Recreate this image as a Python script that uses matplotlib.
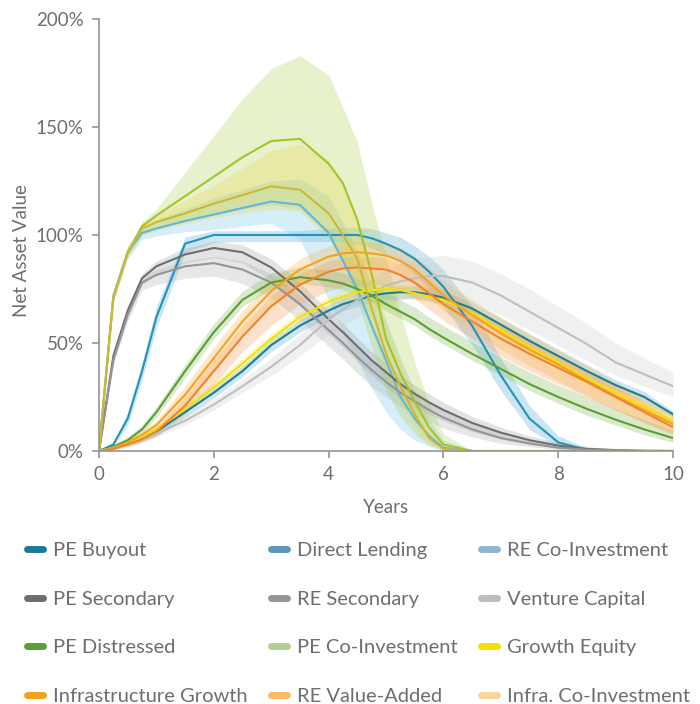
import matplotlib
matplotlib.use('Agg')
import matplotlib.pyplot as plt
from matplotlib.lines import Line2D
from matplotlib.ticker import FuncFormatter

plt.rcParams['font.family'] = ['Lato', 'DejaVu Sans']

# years since first capital call
years = [0, 0.25, 0.5, 0.75, 1, 1.5, 2, 2.5, 3, 3.5, 4, 4.25, 4.5, 4.75, 5,
         5.25, 5.5, 5.75, 6, 6.5, 7, 7.5, 8, 8.5, 9, 9.5, 10]

# NAV as % of commitment: median line, band low, band high
pe_buyout = [0, 1.5, 3.5, 6, 9, 18, 27, 37, 49, 58, 65, 68, 70, 72, 73, 73.5, 73.5, 72.5, 71, 66, 58.5, 51, 44, 37, 30.5, 25, 17]
pe_buyout_lo = [0, 1, 2.5, 4.5, 7, 15.5, 24.5, 34.5, 46, 55, 62, 65, 67, 69, 70, 70.5, 70.5, 69.5, 68, 63, 55.5, 48, 41, 34, 28, 22.5, 15.5]
pe_buyout_hi = [0, 2, 4.5, 7.5, 11, 20.5, 29.5, 39.5, 52, 61, 68, 71, 73, 75, 76, 76.5, 76.5, 75.5, 74, 69, 61.5, 54, 47, 40, 33, 27.5, 18.5]

direct_lending = [0, 3, 15, 37, 62, 96, 100, 100, 100, 100, 100, 100, 100, 98.5, 96, 93, 89, 83, 76, 58, 35, 15, 4, 0.5, 0, 0, 0]
direct_lending_lo = [0, 2, 12, 33, 57, 92, 96.5, 97, 97, 97, 97, 96.5, 96, 94, 91, 87, 82, 75, 67, 49, 28, 10, 2, 0, 0, 0, 0]
direct_lending_hi = [0, 4, 18, 41, 67, 99, 102, 102, 102, 102, 103, 103.5, 103.5, 103, 101, 99, 95, 90, 84, 67, 43, 21, 7, 1.5, 0, 0, 0]

re_coinv = [0, 72, 92, 101, 103, 106.5, 109.5, 112.5, 115.5, 114, 101, 88, 75, 58, 42, 25, 15, 7, 1.5, 0, 0, 0, 0, 0, 0, 0, 0]
re_coinv_lo = [0, 69, 89, 98, 99.5, 101.5, 102.5, 104, 105.5, 98, 70, 55, 42, 29, 18, 10, 5, 2, 0, 0, 0, 0, 0, 0, 0, 0, 0]
re_coinv_hi = [0, 74, 95, 104, 107, 112, 117, 121, 125, 126, 118, 106, 93, 77, 60, 43, 28, 15, 5, 0.5, 0, 0, 0, 0, 0, 0, 0]

pe_secondary = [0, 44, 65, 80, 85.5, 91, 94, 92, 85, 74, 61, 55, 48.5, 42, 36.5, 31, 26.5, 22.5, 19, 13, 8.5, 5, 2.5, 1, 0.4, 0.1, 0]
pe_secondary_lo = [0, 42, 62, 77, 82, 87, 89.5, 87, 79, 67, 54, 48, 41.5, 35, 29.5, 24.5, 20.5, 17, 14, 9, 5.5, 3, 1.5, 0.5, 0.2, 0, 0]
pe_secondary_hi = [0, 45, 67, 82, 88, 94, 97, 95.5, 89, 78, 65, 59, 52.5, 46, 40.5, 35, 30.5, 26.5, 22.5, 16, 11, 7, 4, 2, 1, 0.3, 0]

re_secondary = [0, 42, 63, 78, 81.5, 85.5, 87, 84, 78, 68, 56, 50, 43.5, 37.5, 32, 27, 23, 19, 15.5, 10, 6, 3.5, 1.5, 0.6, 0.2, 0, 0]
re_secondary_lo = [0, 40, 60, 74.5, 77, 80, 81, 77.5, 71, 60.5, 48.5, 42.5, 36, 30, 25, 20.5, 17, 13.5, 10.5, 6.5, 3.5, 2, 0.8, 0.3, 0, 0, 0]
re_secondary_hi = [0, 43, 65, 80, 84, 88, 90, 88, 82, 72, 60.5, 54.5, 48, 42, 36.5, 31.5, 27, 23, 19, 13, 8.5, 5, 2.5, 1, 0.4, 0, 0]

venture = [0, 1, 3, 5, 8, 14, 21.5, 30, 39, 49, 61, 65.5, 70, 73.5, 76.5, 78.5, 80, 81, 81, 78, 72, 64.5, 57, 49.5, 41, 35.5, 30]
venture_lo = [0, 0.5, 2, 4, 6.5, 12, 19, 27, 35, 44, 54, 58, 62, 65, 68, 70, 71, 72, 72, 69, 63, 56, 49, 42, 35, 30, 25]
venture_hi = [0, 1.5, 4, 6, 9.5, 16, 24, 33, 43, 54, 66, 71, 76, 80, 84, 87, 89, 90, 90.5, 88, 82, 75, 67, 59, 50, 43, 36.5]

pe_distressed = [0, 2, 5, 10, 18, 37, 55, 70, 78, 80.5, 79, 77.5, 75, 72, 68, 64.5, 61, 56.5, 52.5, 45, 38, 31, 25, 19.5, 14.5, 10, 6]
pe_distressed_lo = [0, 1, 3.5, 8, 15.5, 34, 52, 67, 75, 77.5, 76, 74.5, 72, 69, 65, 61.5, 58, 53.5, 49.5, 42, 35, 28, 22, 16.5, 12, 7.5, 4]
pe_distressed_hi = [0, 3, 6.5, 12, 20.5, 40, 59, 74, 82.5, 85, 84, 82.5, 80, 77, 73.5, 70, 66.5, 62, 58, 50.5, 43.5, 36.5, 30.5, 25, 19.5, 14.5, 9.5]

pe_coinv = [0, 71, 92, 104, 109, 118, 127, 136, 143.5, 144.5, 133, 124, 107, 82, 52, 36, 23, 11, 3, 0, 0, 0, 0, 0, 0, 0, 0]
pe_coinv_lo = [0, 69, 90, 100, 103, 106, 109, 112, 114, 112, 100, 88, 70, 48, 28, 16, 8, 3, 0.5, 0, 0, 0, 0, 0, 0, 0, 0]
pe_coinv_hi = [0, 73, 94, 106, 112, 129, 146, 163, 177, 183, 174, 159, 143, 115, 90, 64, 41, 22, 8, 0, 0, 0, 0, 0, 0, 0, 0]

growth_equity = [0, 1.5, 3.5, 6.5, 10, 19.5, 29.5, 40.5, 52, 62, 69, 71.5, 73.5, 74.5, 75, 74.5, 73, 71.5, 70, 64, 56, 48, 41, 33.5, 27, 20.5, 14]
growth_equity_lo = [0, 1, 2.5, 5, 8.5, 17.5, 27, 38, 49.5, 59.5, 66.5, 69, 71, 72, 72.5, 72, 70.5, 69, 67.5, 61.5, 53.5, 45.5, 38.5, 31, 24.5, 18, 11.5]
growth_equity_hi = [0, 2, 4.5, 8, 11.5, 21.5, 32, 43, 54.5, 64.5, 71.5, 74, 76, 77, 77.5, 77, 75.5, 74, 72.5, 66.5, 58.5, 50.5, 43.5, 36, 29.5, 23, 16.5]

infra_growth = [0, 1.5, 4, 7.5, 12, 26, 43, 60, 74, 84, 90, 91.5, 92, 91.5, 90.5, 88, 84, 78, 72, 63, 54.5, 47, 40, 32.5, 25.5, 19, 12.5]
infra_growth_lo = [0, 1, 3, 6, 10, 22, 38, 54, 67, 77, 83, 85, 86, 85.5, 84, 81, 77, 71, 65, 56, 47, 39.5, 32.5, 25.5, 19, 13.5, 8.5]
infra_growth_hi = [0, 2, 5, 9, 14, 30, 48, 65, 79, 89, 95, 96.5, 97, 97, 96, 94, 90, 85, 79, 70, 62, 54.5, 47, 39.5, 32, 25, 17]

re_value_added = [0, 1, 3, 5.5, 9, 21, 37, 53, 67, 77, 83, 84.5, 85, 84.5, 84, 81.5, 78, 73, 68, 60, 52, 45, 38.5, 32, 25, 18, 11]
re_value_added_lo = [0, 0.5, 2, 4, 7, 17, 31, 46, 58, 68, 74, 76, 77, 77, 76.5, 74, 70.5, 65.5, 60.5, 52, 44, 37, 31, 25, 19, 13, 7.5]
re_value_added_hi = [0, 1.5, 4, 7, 11, 25, 42, 58, 72, 82, 88, 89.5, 90, 90, 89.5, 87, 84, 79.5, 74.5, 66.5, 58.5, 51, 44, 37, 30, 22.5, 14.5]

infra_coinv = [0, 71, 92, 103, 106, 110, 114.5, 118.5, 122.5, 121, 110, 100, 89, 66, 45, 30, 17, 6, 1, 0, 0, 0, 0, 0, 0, 0, 0]
infra_coinv_lo = [0, 69, 90, 100, 102, 105, 108, 110, 112, 111, 98, 88, 76, 56, 36, 23, 11, 3, 0.5, 0, 0, 0, 0, 0, 0, 0, 0]
infra_coinv_hi = [0, 73, 94, 106, 109, 116, 123, 131, 139, 142, 135, 124, 108, 86, 60, 42, 24, 11, 3, 0, 0, 0, 0, 0, 0, 0, 0]

# legend order, read row by row
names = ['PE Buyout', 'Direct Lending', 'RE Co-Investment',
         'PE Secondary', 'RE Secondary', 'Venture Capital',
         'PE Distressed', 'PE Co-Investment', 'Growth Equity',
         'Infrastructure Growth', 'RE Value-Added', 'Infra. Co-Investment']
lines = [pe_buyout, direct_lending, re_coinv, pe_secondary, re_secondary, venture,
         pe_distressed, pe_coinv, growth_equity, infra_growth, re_value_added, infra_coinv]
lows = [pe_buyout_lo, direct_lending_lo, re_coinv_lo, pe_secondary_lo, re_secondary_lo, venture_lo,
        pe_distressed_lo, pe_coinv_lo, growth_equity_lo, infra_growth_lo, re_value_added_lo, infra_coinv_lo]
highs = [pe_buyout_hi, direct_lending_hi, re_coinv_hi, pe_secondary_hi, re_secondary_hi, venture_hi,
         pe_distressed_hi, pe_coinv_hi, growth_equity_hi, infra_growth_hi, re_value_added_hi, infra_coinv_hi]

line_colors = ['#1e7d98', '#2293bb', '#5cb9dd', '#6d6e71', '#939598', '#bcbec0',
               '#5c9e2e', '#a3c42a', '#f2e104', '#f4a21f', '#ef852b', '#cdb834']
band_colors = ['#4aa3c4', '#4aa8cf', '#6cc3e6', '#9a9b9e', '#a9abad', '#c9cacc',
               '#7db64f', '#a9cd4a', '#f5e640', '#f8b040', '#f59a4a', '#efd64a']
legend_colors = ['#1a7a9c', '#5b98b8', '#8fb6d0', '#6d6e71', '#939598', '#bcbdbf',
                 '#5a9e3a', '#b2d096', '#f4e100', '#f3a01f', '#f9bb66', '#fdd39c']

grey = '#6d6e71'
spine = '#939598'

fig = plt.figure(figsize=(7, 7.04), dpi=100)
ax = fig.add_axes([99/700, 1 - 451/704, 574/700, 432/704])

for lo, hi, c in zip(lows, highs, band_colors):
    ax.fill_between(years, lo, hi, color=c, alpha=0.28, lw=0)
for ys, c in zip(lines, line_colors):
    ax.plot(years, ys, color=c, lw=1.5)

ax.set_xlim(0, 10)
ax.set_ylim(0, 200)
ax.set_xticks(range(0, 11, 2))
ax.set_yticks(range(0, 201, 50))
ax.yaxis.set_major_formatter(FuncFormatter(lambda v, p: f'{v:.0f}%'))
ax.tick_params(colors=spine, labelcolor=grey, labelsize=13.5, length=5, width=1.2, pad=6)
for s in ['top', 'right']:
    ax.spines[s].set_visible(False)
for s in ['left', 'bottom']:
    ax.spines[s].set_color(spine)
    ax.spines[s].set_linewidth(1.2)

ax.set_ylabel('Net Asset Value', color=grey, fontsize=13.5)
ax.yaxis.set_label_coords(-0.12, 0.465)
ax.set_xlabel('Years', color=grey, fontsize=13.5)
ax.xaxis.set_label_coords(0.5, -0.11)

# legend fills column-wise, so reorder to read row by row
order = [i for col in range(3) for i in range(col, len(names), 3)]
handles = [Line2D([], [], color=legend_colors[i], lw=5, solid_capstyle='round') for i in order]
labels = [names[i] for i in order]
fig.legend(handles, labels, loc='upper left', bbox_to_anchor=(0.039, 0.23), ncol=3,
           frameon=False, fontsize=14.5, labelcolor=grey, handlelength=0.8,
           handletextpad=0.5, columnspacing=1.15, labelspacing=1.56,
           borderpad=0, borderaxespad=0)

fig.savefig('out.png', dpi=100)
